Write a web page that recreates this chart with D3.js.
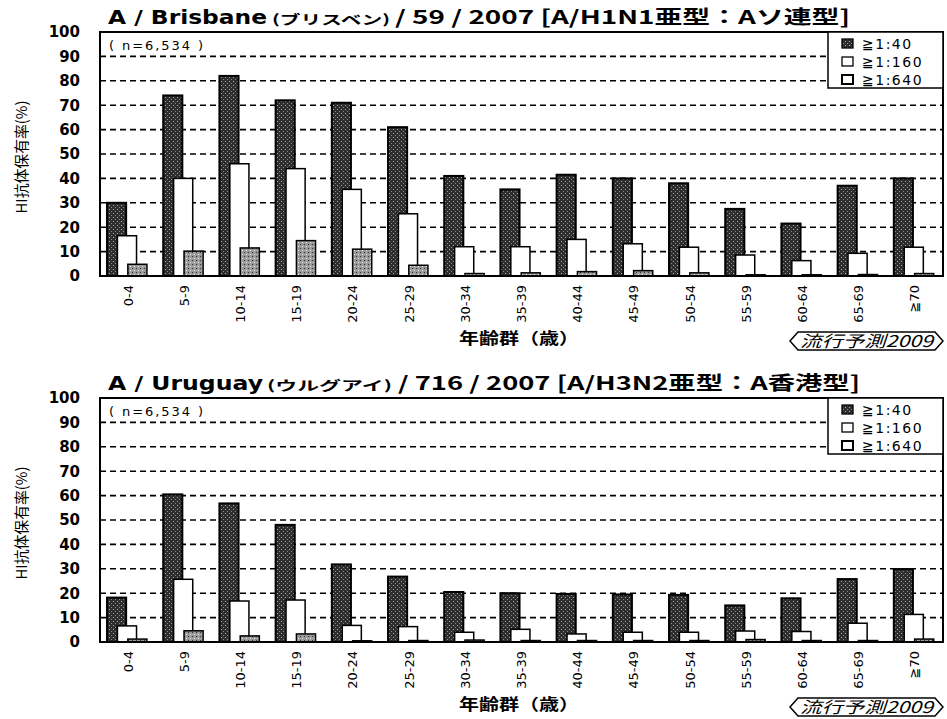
<!DOCTYPE html>
<html><head><meta charset="utf-8">
<script src="https://cdn.jsdelivr.net/npm/d3@7"></script>
<style>
body{margin:0;background:#fff;}
svg{display:block;}
</style></head>
<body>
<svg id="c" width="947" height="719"></svg>
<script>
const categories = ["0-4","5-9","10-14","15-19","20-24","25-29","30-34","35-39","40-44","45-49","50-54","55-59","60-64","65-69","≧70"];
const seriesNames = ["≧1:40","≧1:160","≧1:640"];
const yTicks = [0,10,20,30,40,50,60,70,80,90,100];

const h1n1_40  = [30,74,82,72,71,61,41,35.5,41.5,40,38,27.5,21.5,37,40];
const h1n1_160 = [16.5,40,46,44,35.5,25.5,12,12,15,13.2,11.8,8.6,6.3,9.3,11.8];
const h1n1_640 = [4.8,10.2,11.5,14.5,11,4.4,1,1.3,1.8,2.2,1.3,0.5,0.5,0.6,1];

const h3n2_40  = [18.2,60.5,56.8,48,31.8,26.8,20.5,20,19.7,19.5,19.3,15,17.9,25.8,29.9];
const h3n2_160 = [6.6,25.7,16.8,17.2,6.8,6.3,4,5.2,3.3,4,4,4.5,4.3,7.7,11.3];
const h3n2_640 = [1.2,4.6,2.5,3.3,0.5,0.6,0.8,0.6,0.6,0.6,0.6,1,0.6,0.6,1.2];

const charts = [
  {titleA:"A / Brisbane", titleJ:"(ブリスベン)", titleB:"/ 59 / 2007 [A/H1N1亜型：Aソ連型]", lens:[[108,159],[272,118],[395,455]], series:[h1n1_40,h1n1_160,h1n1_640], top:32},
  {titleA:"A / Uruguay", titleJ:"(ウルグアイ)", titleB:"/ 716 / 2007 [A/H3N2亜型：A香港型]", lens:[[108,155],[267,125],[398,462]], series:[h3n2_40,h3n2_160,h3n2_640], top:398}
];

const svg = d3.select("#c");
const defs = svg.append("defs");
const pat = defs.append("pattern").attr("id","stip").attr("width",4).attr("height",4).attr("patternUnits","userSpaceOnUse");
pat.append("rect").attr("width",4).attr("height",4).attr("fill","#2e2e2e");
pat.append("rect").attr("x",1).attr("y",1).attr("width",1).attr("height",1).attr("fill","#aaa");
pat.append("rect").attr("x",3).attr("y",3).attr("width",1).attr("height",1).attr("fill","#888");
const pat2 = defs.append("pattern").attr("id","stip2").attr("width",4).attr("height",4).attr("patternUnits","userSpaceOnUse");
pat2.append("rect").attr("width",4).attr("height",4).attr("fill","#9a9a9a");
pat2.append("rect").attr("x",0).attr("y",0).attr("width",1).attr("height",1).attr("fill","#333");
pat2.append("rect").attr("x",2).attr("y",2).attr("width",1).attr("height",1).attr("fill","#eee");

const fills = ["url(#stip)","#ffffff","url(#stip2)"];
const left = 100, right = 943, plotH = 244;
const fontNum = "'DejaVu Sans', sans-serif";
const fontJ = "'Noto Sans CJK JP', sans-serif";

charts.forEach(ch => {
  const g = svg.append("g");
  const x = d3.scaleBand().domain(categories).range([left,right]).padding(0);
  const y = d3.scaleLinear().domain([0,100]).range([ch.top+plotH, ch.top]);
  const sub = d3.scaleLinear().domain([0,1]).range([0.125,0.31]);
  const bw = x.bandwidth();
  const barW = bw*0.34;

  // title
  const ty = ch.top-8;
  g.append("text").attr("x",ch.lens[0][0]).attr("y",ty).attr("textLength",ch.lens[0][1]).attr("lengthAdjust","spacingAndGlyphs")
    .attr("font-family",fontNum).attr("font-weight","bold").attr("font-size",19).attr("fill","#000").text(ch.titleA);
  g.append("text").attr("x",ch.lens[1][0]).attr("y",ty).attr("textLength",ch.lens[1][1]).attr("lengthAdjust","spacingAndGlyphs")
    .attr("font-family",fontJ).attr("font-weight","bold").attr("font-size",13).attr("fill","#000").text(ch.titleJ);
  g.append("text").attr("x",ch.lens[2][0]).attr("y",ty).attr("textLength",ch.lens[2][1]).attr("lengthAdjust","spacingAndGlyphs")
    .attr("font-family",fontJ).attr("font-weight","bold").attr("font-size",19).attr("fill","#000").text(ch.titleB);

  // gridlines
  g.selectAll(".grid").data(yTicks.filter(v=>v>0&&v<100)).enter().append("line")
    .attr("x1",left).attr("x2",right).attr("y1",d=>y(d)).attr("y2",d=>y(d))
    .attr("stroke","#000").attr("stroke-width",1.6).attr("stroke-dasharray","6,4");

  // bars
  ch.series.forEach((vals,si)=>{
    g.selectAll(".b"+si).data(vals).enter().append("rect")
      .attr("x",(d,i)=>x(categories[i]) + bw*sub(si))
      .attr("y",d=>y(d))
      .attr("width",barW)
      .attr("height",d=>y(0)-y(d))
      .attr("fill",fills[si]).attr("stroke","#000").attr("stroke-width",si===0?2:1.5);
  });

  // frame
  g.append("rect").attr("x",left).attr("y",ch.top).attr("width",right-left).attr("height",plotH)
    .attr("fill","none").attr("stroke","#000").attr("stroke-width",2);

  // y axis labels
  const yAxis = d3.axisLeft(y).tickValues(yTicks).tickSize(0).tickPadding(20);
  const ya = g.append("g").attr("transform",`translate(${left},0)`).call(yAxis);
  ya.select(".domain").remove();
  ya.selectAll("text").attr("font-family",fontNum).attr("font-size",15).attr("font-weight","bold").attr("fill","#000");

  // x axis
  const xAxis = d3.axisBottom(x).tickSize(0).tickPadding(0);
  const xa = g.append("g").attr("transform",`translate(0,${ch.top+plotH})`).call(xAxis);
  xa.select(".domain").remove();
  xa.selectAll("text").attr("transform","rotate(-90)").attr("text-anchor","end")
    .attr("x",-9).attr("y",0).attr("dy","0.35em")
    .attr("font-family",fontNum).attr("font-size",13).attr("fill","#000");

  // y title
  g.append("text").attr("transform",`translate(27,${ch.top+125}) rotate(-90)`).attr("text-anchor","middle")
    .attr("font-family",fontJ).attr("font-size",15).attr("fill","#000")
    .attr("textLength",113).attr("lengthAdjust","spacingAndGlyphs").text("HI抗体保有率(%)");

  // x title
  g.append("text").attr("x",459).attr("y",ch.top+plotH+68)
    .attr("font-family",fontJ).attr("font-size",16).attr("font-weight","bold").attr("fill","#000")
    .attr("textLength",120).attr("lengthAdjust","spacingAndGlyphs").text("年齢群（歳）");

  // n label
  g.append("text").attr("x",109).attr("y",ch.top+18).attr("font-family",fontNum).attr("font-size",13).attr("fill","#000")
    .attr("textLength",94).attr("lengthAdjust","spacing").text("( n=6,534 )");

  // legend
  const lg = g.append("g").attr("transform",`translate(828,${ch.top})`);
  lg.append("rect").attr("width",115).attr("height",56).attr("fill","#fff").attr("stroke","#000").attr("stroke-width",1.5);
  seriesNames.forEach((s,i)=>{
    lg.append("rect").attr("x",14).attr("y",7+i*18).attr("width",11).attr("height",9)
      .attr("fill",i===0?"url(#stip)":"#fff").attr("stroke","#000").attr("stroke-width",i===2?2:1.3);
    lg.append("text").attr("x",34).attr("y",17+i*18).attr("font-family",fontNum).attr("font-size",14).attr("fill","#000")
      .attr("letter-spacing",1.5).text(s);
  });

  // badge
  const by = ch.top+plotH+65;
  const bg = g.append("g");
  bg.append("path").attr("d",`M790,${by} L798,${by-9} L935,${by-9} L943,${by} L935,${by+9} L798,${by+9} Z`)
    .attr("fill","#fff").attr("stroke","#000").attr("stroke-width",1.5);
  bg.append("text").attr("x",800).attr("y",by+6).attr("font-family",fontJ)
    .attr("font-style","italic").attr("font-size",16).attr("fill","#000")
    .attr("textLength",133).attr("lengthAdjust","spacingAndGlyphs").text("流行予測2009");
});
</script>
</body></html>
